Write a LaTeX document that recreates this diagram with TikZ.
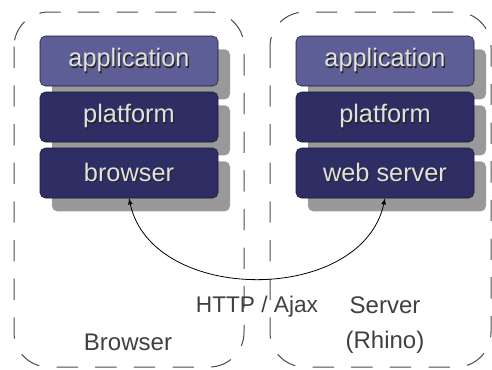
\documentclass[tikz,border=0pt]{standalone}
\usepackage{fontspec}
\setmainfont{Liberation Sans}
\usepackage{xcolor}
\usetikzlibrary{shadows}
\definecolor{applight}{RGB}{94,94,150}
\definecolor{layerdark}{RGB}{46,46,100}
\definecolor{layerline}{RGB}{24,24,52}
\definecolor{labelgray}{RGB}{64,64,64}
\newcommand{\layertext}[1]{\rlap{\kern0.9pt\raisebox{-0.9pt}{\color{black!85}#1}}{\color{white!88!black}#1}}
\tikzstyle{layer} = [rectangle, rounded corners=4pt, minimum width=133.5pt, minimum height=37.5pt,
text centered, draw=layerline, fill=layerdark, font=\fontsize{19}{22}\selectfont,
drop shadow={shadow xshift=9pt, shadow yshift=-10pt, fill=gray!80, opacity=1}]
\tikzstyle{container} = [dashed, dash pattern=on 16pt off 13pt, draw=black!70, line width=0.75pt,
rounded corners=26pt]
\tikzstyle{label} = [text=labelgray, font=\fontsize{18}{26}\selectfont, align=center]

\begin{document}
\begin{tikzpicture}[x=0.75pt, y=-0.75pt, node distance=42pt]
            \useasboundingbox (0,0) rectangle (492,369);

            % Draw the two hosts
            \draw[container] (14,12) rectangle (244,367);
            \draw[container] (270,12) rectangle (491,367);

            % Browser stack
            \node(app) [layer, fill=applight] at (129,61) {\layertext{application}};
            \node(plat) [layer, below of=app] {\layertext{platform}};
            \node(brow) [layer, below of=plat] {\layertext{browser}};

            % Server stack
            \node(srvapp) [layer, fill=applight, right of=app, xshift=150pt] {\layertext{application}};
            \node(srvplat) [layer, below of=srvapp] {\layertext{platform}};
            \node(websrv) [layer, below of=srvplat] {\layertext{web server}};

            % Draw Labels
            \node(http) [label, font=\fontsize{17}{20}\selectfont] at (257,307) {HTTP / Ajax};
            \node(browlbl) [label] at (128,342) {Browser};
            \node(srvlbl) [label] at (385,325) {Server\\(Rhino)};

            % Draw Lines
            \draw[<->, >=latex, line width=0.6pt] (brow.south) .. controls (152,305) and (362,305) .. (websrv.south);
\end{tikzpicture}
\end{document}
